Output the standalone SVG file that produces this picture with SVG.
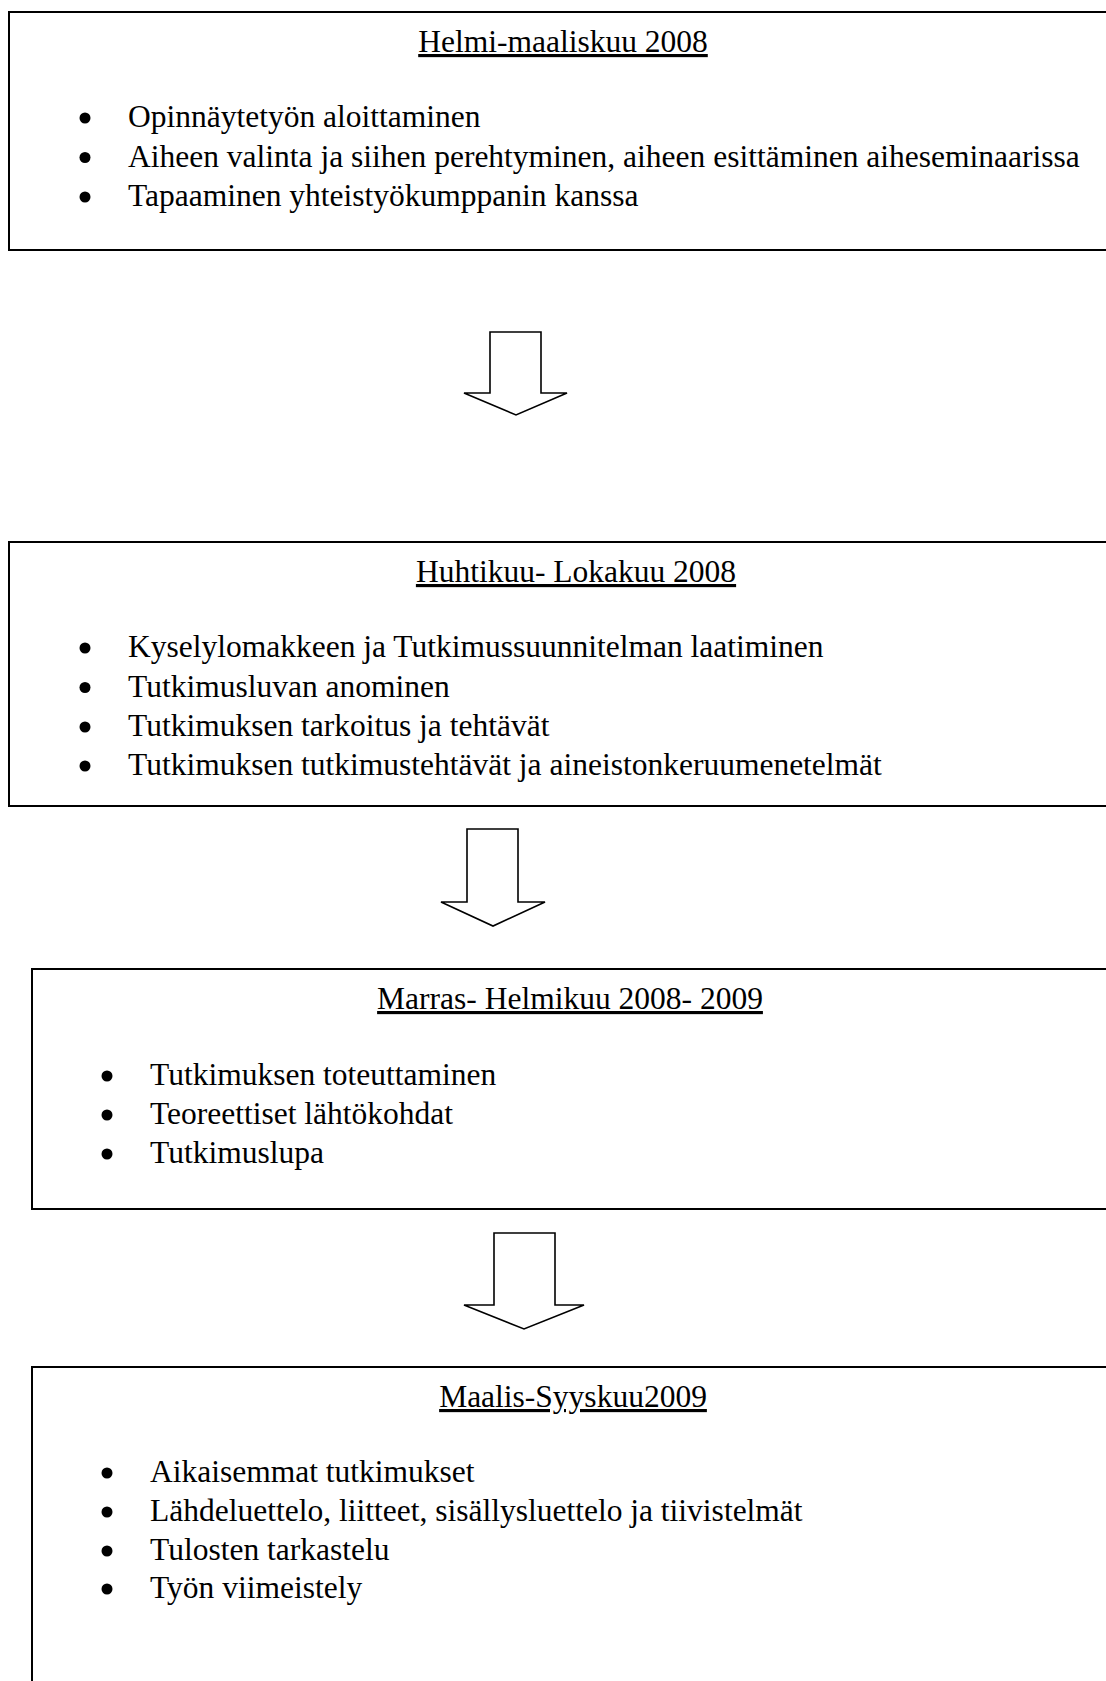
<svg xmlns="http://www.w3.org/2000/svg" width="1106" height="1681" viewBox="0 0 1106 1681">
<style>
.box{fill:#fff;stroke:#000;stroke-width:2}
.arrow{fill:#fff;stroke:#000;stroke-width:1.6;stroke-linejoin:miter}
text{font-family:"Liberation Serif","Times New Roman",serif;font-size:31.5px;fill:#000}
.title{text-anchor:middle;text-decoration:underline}
.dot{fill:#000}
</style>
<rect x="0" y="0" width="1106" height="1681" fill="#fff"/>
<g id="node-1">
<rect class="box" x="9" y="12" width="1200" height="238"/>
<text class="title" x="563" y="52">Helmi-maaliskuu 2008</text>
<circle class="dot" cx="85" cy="118" r="5.5"/>
<text x="128" y="127">Opinnäytetyön aloittaminen</text>
<circle class="dot" cx="85" cy="157.5" r="5.5"/>
<text x="128" y="166.5">Aiheen valinta ja siihen perehtyminen, aiheen esittäminen aiheseminaarissa</text>
<circle class="dot" cx="85" cy="197" r="5.5"/>
<text x="128" y="206">Tapaaminen yhteistyökumppanin kanssa</text>
</g>
<g id="node-2">
<rect class="box" x="9" y="542" width="1200" height="264"/>
<text class="title" x="576" y="582">Huhtikuu- Lokakuu 2008</text>
<circle class="dot" cx="85" cy="648" r="5.5"/>
<text x="128" y="657">Kyselylomakkeen ja Tutkimussuunnitelman laatiminen</text>
<circle class="dot" cx="85" cy="687.5" r="5.5"/>
<text x="128" y="696.5">Tutkimusluvan anominen</text>
<circle class="dot" cx="85" cy="727" r="5.5"/>
<text x="128" y="736">Tutkimuksen tarkoitus ja tehtävät</text>
<circle class="dot" cx="85" cy="766" r="5.5"/>
<text x="128" y="775">Tutkimuksen tutkimustehtävät ja aineistonkeruumenetelmät</text>
</g>
<g id="node-3">
<rect class="box" x="32" y="969" width="1200" height="240"/>
<text class="title" x="570" y="1009">Marras- Helmikuu 2008- 2009</text>
<circle class="dot" cx="107" cy="1076" r="5.5"/>
<text x="150" y="1085">Tutkimuksen toteuttaminen</text>
<circle class="dot" cx="107" cy="1115" r="5.5"/>
<text x="150" y="1124">Teoreettiset lähtökohdat</text>
<circle class="dot" cx="107" cy="1154" r="5.5"/>
<text x="150" y="1163">Tutkimuslupa</text>
</g>
<g id="node-4">
<rect class="box" x="32" y="1367" width="1200" height="400"/>
<text class="title" x="573" y="1407">Maalis-Syyskuu2009</text>
<circle class="dot" cx="107" cy="1473" r="5.5"/>
<text x="150" y="1482">Aikaisemmat tutkimukset</text>
<circle class="dot" cx="107" cy="1512" r="5.5"/>
<text x="150" y="1521">Lähdeluettelo, liitteet, sisällysluettelo ja tiivistelmät</text>
<circle class="dot" cx="107" cy="1551" r="5.5"/>
<text x="150" y="1560">Tulosten tarkastelu</text>
<circle class="dot" cx="107" cy="1589" r="5.5"/>
<text x="150" y="1598">Työn viimeistely</text>
</g>
<g id="connectors">
<polygon class="arrow" points="490,332 541,332 541,393 567,393 516,415 464,393 490,393"/>
<polygon class="arrow" points="467,829 518,829 518,902 545,902 493,926 441,902 467,902"/>
<polygon class="arrow" points="494,1233 555,1233 555,1305 584,1305 524,1329 464,1305 494,1305"/>
</g>
</svg>
